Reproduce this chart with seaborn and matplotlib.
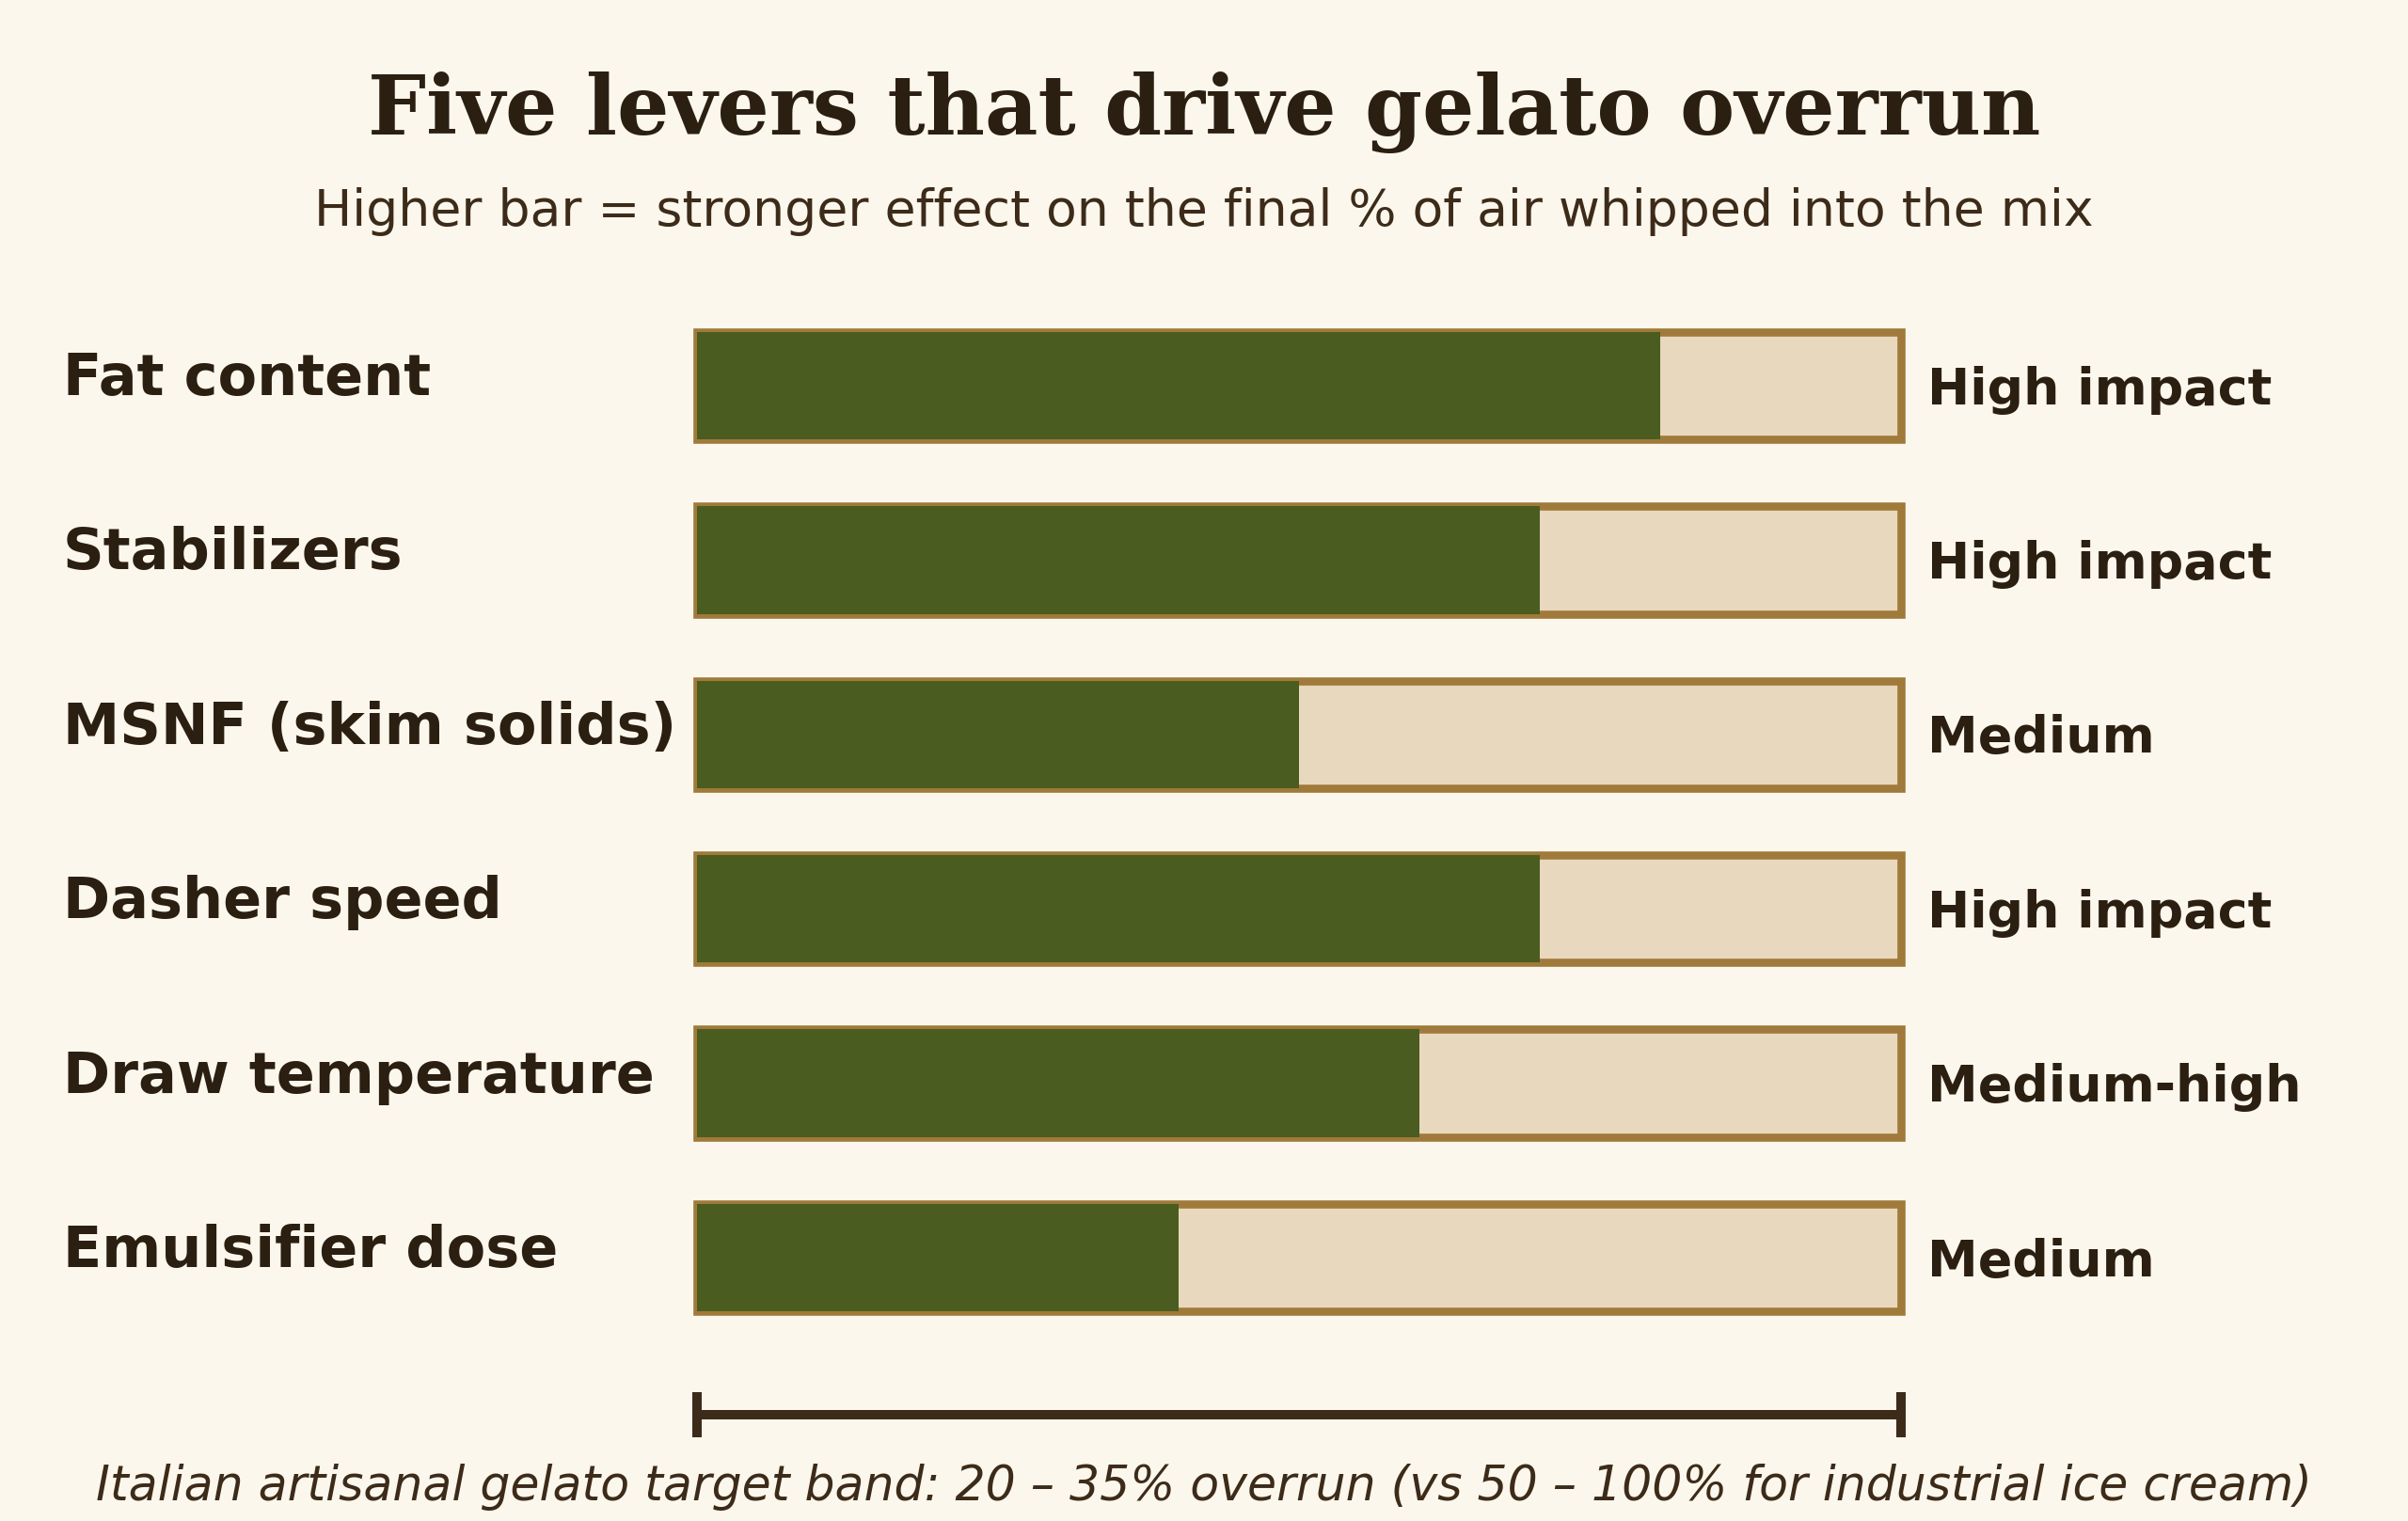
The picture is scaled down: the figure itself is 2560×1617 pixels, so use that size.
import seaborn as sns
import matplotlib.pyplot as plt
import matplotlib.transforms as mtransforms
import pandas as pd

# dados
levers = ["Fat content", "Stabilizers", "MSNF (skim solids)", "Dasher speed",
          "Draw temperature", "Emulsifier dose"]
strength = [0.80, 0.70, 0.50, 0.70, 0.60, 0.40]
impact = ["High impact", "High impact", "Medium", "High impact", "Medium-high", "Medium"]

BG = "#FCF7EC"
GREEN = "#4A5C1F"
BEIGE = "#E8D8BD"
EDGE = "#A07A3A"
INK = "#2B1F12"
INK2 = "#3D2B1A"

df = pd.DataFrame({"lever": levers, "strength": strength, "full": [1.0] * len(levers)})

sns.set_theme(style="white")
plt.rcParams["font.family"] = ["DejaVu Sans"]

fig = plt.figure(figsize=(12.8, 8.085), dpi=200, facecolor=BG)
ax = fig.add_axes([0.2895, 0.0356, 0.5, 0.7682])
ax.set_facecolor(BG)

# trilho de fundo com contorno, depois a barra verde por cima
sns.barplot(data=df, x="full", y="lever", orient="h", color=BEIGE, width=0.617,
            edgecolor=EDGE, linewidth=3.1, saturation=1, ax=ax)
sns.barplot(data=df, x="strength", y="lever", orient="h", color=GREEN, width=0.617,
            linewidth=0, saturation=1, ax=ax)
for p in ax.patches:
    p.set_clip_on(False)

ax.set_xlim(0, 1)
ax.set_ylim(6.2, -0.5)
ax.axis("off")

# rótulos à esquerda e à direita
trans_left = mtransforms.blended_transform_factory(fig.transFigure, ax.transData)
for i, (name, imp) in enumerate(zip(levers, impact)):
    ax.text(0.026, i - 0.035, name, transform=trans_left, ha="left", va="center",
            fontsize=21.8, fontweight="bold", color=INK)
    ax.annotate(imp, xy=(1.0, i + 0.025), xytext=(10, 0), textcoords="offset points",
                ha="left", va="center", fontsize=19.4, fontweight="bold", color=INK)

# escala inferior
ax.plot([0, 1], [5.9, 5.9], color=INK2, lw=3.6, solid_capstyle="butt", clip_on=False)
for xv in [0, 1]:
    ax.plot([xv, xv], [5.77, 6.03], color=INK2, lw=3.6, solid_capstyle="butt", clip_on=False)

fig.text(0.5, 0.926, "Five levers that drive gelato overrun", ha="center", va="center",
         fontsize=31.4, fontweight="bold", family="DejaVu Serif", color=INK)
fig.text(0.5, 0.861, "Higher bar = stronger effect on the final % of air whipped into the mix",
         ha="center", va="center", fontsize=19.3, color=INK2)
fig.text(0.5, 0.022,
         "Italian artisanal gelato target band: 20 \u2013 35% overrun (vs 50 \u2013 100% for industrial ice cream)",
         ha="center", va="center", fontsize=18.2, style="italic", color=INK2)

fig.savefig("out.png", dpi=200, facecolor=BG)
